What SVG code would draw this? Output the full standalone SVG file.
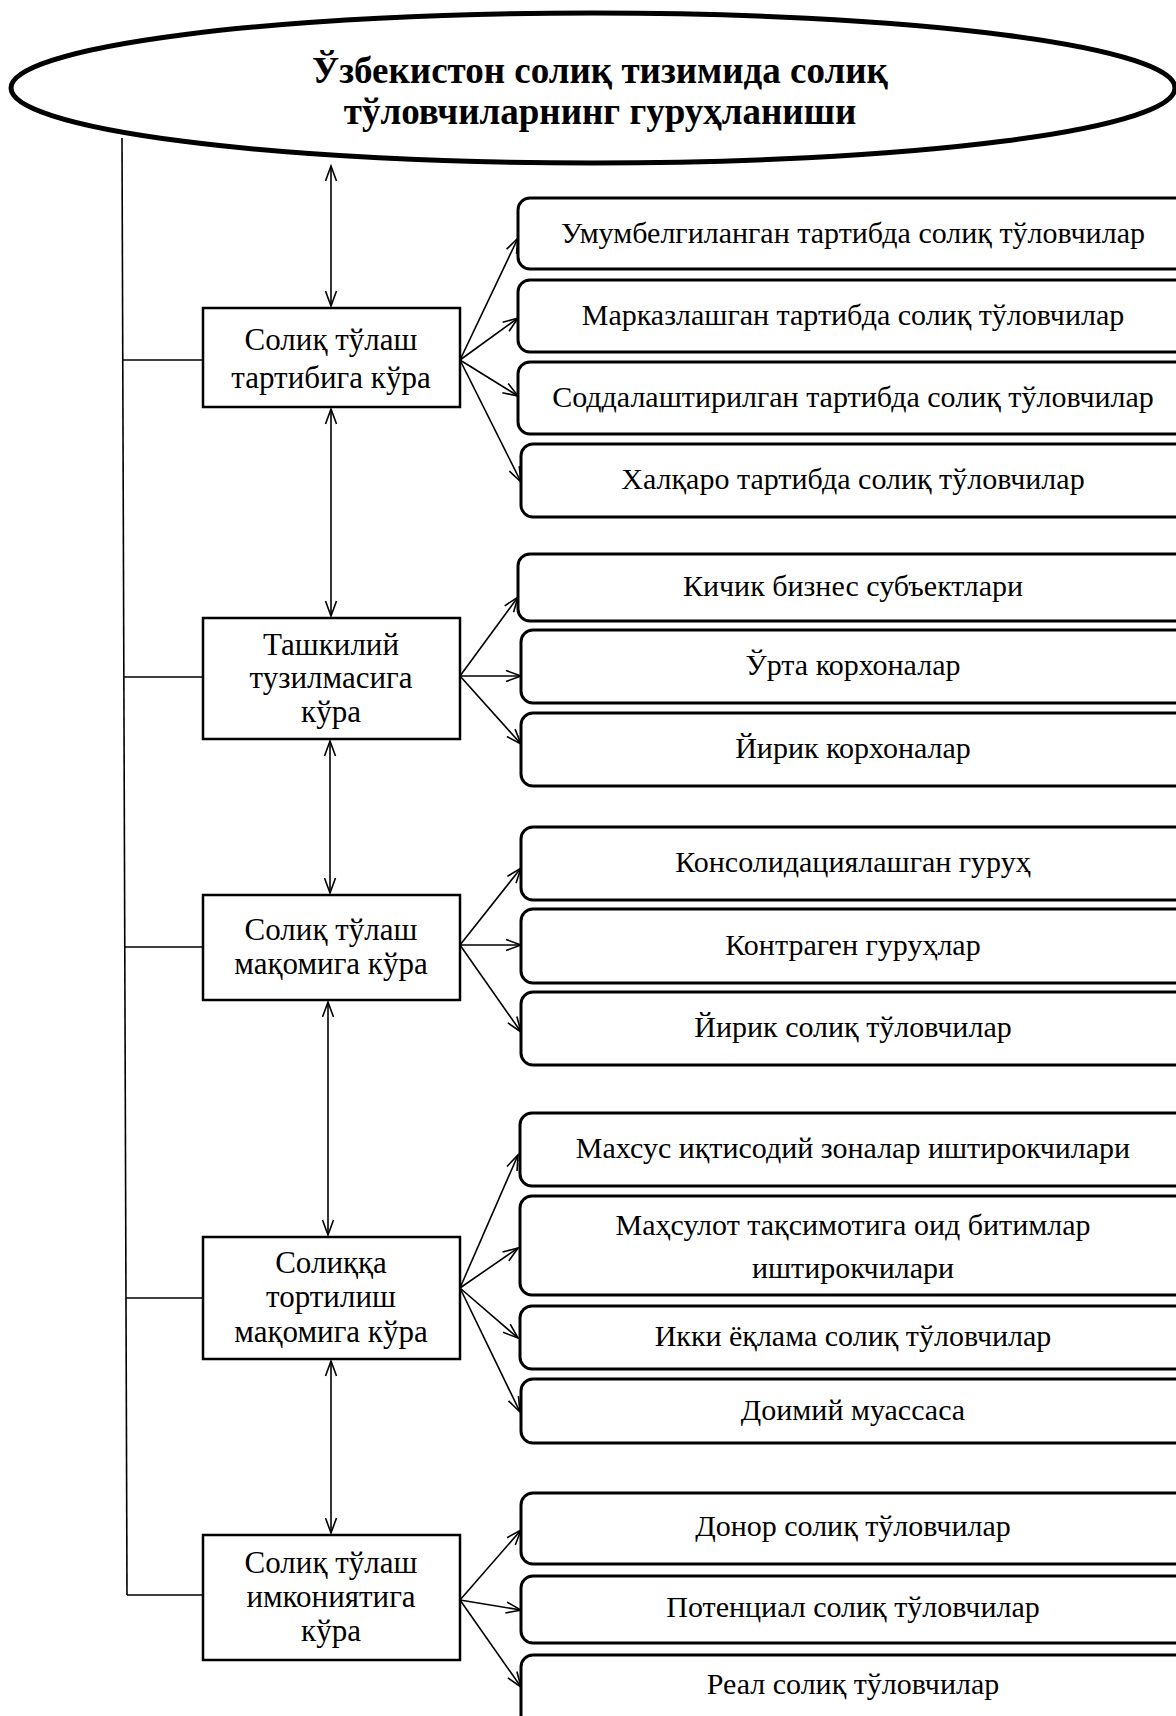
<svg xmlns="http://www.w3.org/2000/svg" width="1176" height="1716" viewBox="0 0 1176 1716">
<style>
.t{font-family:"Liberation Serif","Times New Roman",serif;font-size:30px;fill:#000;text-anchor:middle}
.tc{font-family:"Liberation Serif","Times New Roman",serif;font-size:31px;fill:#000;text-anchor:middle}
.title{font-family:"Liberation Serif","Times New Roman",serif;font-size:37px;font-weight:bold;fill:#000;text-anchor:middle}
.cat{fill:#fff;stroke:#000;stroke-width:2.5}
.sub{fill:#fff;stroke:#000;stroke-width:3}
.ln{fill:none;stroke:#000;stroke-width:1.6}
.ar{fill:none;stroke:#000;stroke-width:1.6;marker-end:url(#ah)}
.dar{fill:none;stroke:#000;stroke-width:1.6;marker-end:url(#ah);marker-start:url(#ahs)}
</style>
<defs>
<marker id="ah" markerUnits="userSpaceOnUse" markerWidth="18" markerHeight="14" refX="16" refY="7" orient="auto" overflow="visible">
<path d="M1,1.5 L16,7 L1,12.5" fill="none" stroke="#000" stroke-width="1.6"/>
</marker>
<marker id="ahs" markerUnits="userSpaceOnUse" markerWidth="18" markerHeight="14" refX="2" refY="7" orient="auto" overflow="visible">
<path d="M17,1.5 L2,7 L17,12.5" fill="none" stroke="#000" stroke-width="1.6"/>
</marker>
</defs>

<g id="title">
<ellipse cx="593" cy="88" rx="582" ry="75" fill="#fff" stroke="#000" stroke-width="5"/>
<text class="title" x="600" y="83">Ўзбекистон солиқ тизимида солиқ</text>
<text class="title" x="600" y="124">тўловчиларнинг гуруҳланиши</text>
</g>

<g id="connectors">
<path class="ln" d="M122,138 L127,1595"/>
<path class="ln" d="M123,360 H203"/>
<path class="ln" d="M124,677 H203"/>
<path class="ln" d="M125,947 H203"/>
<path class="ln" d="M126,1298 H203"/>
<path class="ln" d="M127,1595 H203"/>

<path class="dar" d="M331,166 V306"/>
<path class="dar" d="M331,409 V616"/>
<path class="dar" d="M330,741 V893"/>
<path class="dar" d="M328,1002 V1235"/>
<path class="dar" d="M331,1361 V1533"/>

<path class="ar" d="M460,360 L518,238"/>
<path class="ar" d="M460,360 L518,318"/>
<path class="ar" d="M460,360 L518,396"/>
<path class="ar" d="M460,360 L521,482"/>

<path class="ar" d="M460,676 L518,597"/>
<path class="ar" d="M460,676 L521,676"/>
<path class="ar" d="M460,676 L521,744"/>

<path class="ar" d="M460,945 L521,868"/>
<path class="ar" d="M460,945 L521,945"/>
<path class="ar" d="M460,945 L521,1032"/>

<path class="ar" d="M460,1288 L518,1155"/>
<path class="ar" d="M460,1288 L518,1248"/>
<path class="ar" d="M460,1288 L518,1338"/>
<path class="ar" d="M460,1288 L520,1412"/>

<path class="ar" d="M460,1600 L521,1530"/>
<path class="ar" d="M460,1600 L521,1610"/>
<path class="ar" d="M460,1600 L521,1687"/>
</g>

<g id="c1"><rect class="cat" x="203" y="308" width="257" height="99"/>
<text class="tc" x="331" y="350">Солиқ тўлаш</text><text class="tc" x="331" y="388">тартибига кўра</text></g>
<g id="c2"><rect class="cat" x="203" y="618" width="257" height="121"/>
<text class="tc" x="331" y="655">Ташкилий</text><text class="tc" x="331" y="688">тузилмасига</text><text class="tc" x="331" y="722">кўра</text></g>
<g id="c3"><rect class="cat" x="203" y="895" width="257" height="105"/>
<text class="tc" x="331" y="940">Солиқ тўлаш</text><text class="tc" x="331" y="974">мақомига кўра</text></g>
<g id="c4"><rect class="cat" x="203" y="1237" width="257" height="122"/>
<text class="tc" x="331" y="1273">Солиққа</text><text class="tc" x="331" y="1307">тортилиш</text><text class="tc" x="331" y="1342">мақомига кўра</text></g>
<g id="c5"><rect class="cat" x="203" y="1535" width="257" height="125"/>
<text class="tc" x="331" y="1573">Солиқ тўлаш</text><text class="tc" x="331" y="1607">имкониятига</text><text class="tc" x="331" y="1641">кўра</text></g>

<g id="r1a"><rect class="sub" x="518" y="198" width="690" height="71" rx="12"/><text class="t" x="853" y="243">Умумбелгиланган тартибда солиқ тўловчилар</text></g>
<g id="r1b"><rect class="sub" x="518" y="280" width="690" height="72" rx="12"/><text class="t" x="853" y="325">Марказлашган тартибда солиқ тўловчилар</text></g>
<g id="r1c"><rect class="sub" x="518" y="362" width="690" height="72" rx="12"/><text class="t" x="853" y="407">Соддалаштирилган тартибда солиқ тўловчилар</text></g>
<g id="r1d"><rect class="sub" x="521" y="444" width="690" height="73" rx="12"/><text class="t" x="853" y="489">Халқаро тартибда солиқ тўловчилар</text></g>

<g id="r2a"><rect class="sub" x="518" y="554" width="690" height="67" rx="12"/><text class="t" x="853" y="596">Кичик бизнес субъектлари</text></g>
<g id="r2b"><rect class="sub" x="521" y="630" width="690" height="73" rx="12"/><text class="t" x="853" y="675">Ўрта корхоналар</text></g>
<g id="r2c"><rect class="sub" x="521" y="713" width="690" height="73" rx="12"/><text class="t" x="853" y="758">Йирик корхоналар</text></g>

<g id="r3a"><rect class="sub" x="521" y="827" width="690" height="73" rx="12"/><text class="t" x="853" y="872">Консолидациялашган гуруҳ</text></g>
<g id="r3b"><rect class="sub" x="521" y="909" width="690" height="74" rx="12"/><text class="t" x="853" y="955">Контраген гуруҳлар</text></g>
<g id="r3c"><rect class="sub" x="521" y="992" width="690" height="73" rx="12"/><text class="t" x="853" y="1037">Йирик солиқ тўловчилар</text></g>

<g id="r4a"><rect class="sub" x="520" y="1113" width="690" height="73" rx="12"/><text class="t" x="853" y="1158">Махсус иқтисодий зоналар иштирокчилари</text></g>
<g id="r4b"><rect class="sub" x="520" y="1196" width="690" height="99" rx="12"/><text class="t" x="853" y="1235">Маҳсулот тақсимотига оид битимлар</text><text class="t" x="853" y="1278">иштирокчилари</text></g>
<g id="r4c"><rect class="sub" x="520" y="1306" width="690" height="63" rx="12"/><text class="t" x="853" y="1346">Икки ёқлама солиқ тўловчилар</text></g>
<g id="r4d"><rect class="sub" x="521" y="1379" width="690" height="64" rx="12"/><text class="t" x="853" y="1420">Доимий муассаса</text></g>

<g id="r5a"><rect class="sub" x="521" y="1493" width="690" height="71" rx="12"/><text class="t" x="853" y="1536">Донор солиқ тўловчилар</text></g>
<g id="r5b"><rect class="sub" x="521" y="1576" width="690" height="67" rx="12"/><text class="t" x="853" y="1617">Потенциал солиқ тўловчилар</text></g>
<g id="r5c"><rect class="sub" x="521" y="1655" width="690" height="80" rx="12"/><text class="t" x="853" y="1694">Реал солиқ тўловчилар</text></g>
</svg>
